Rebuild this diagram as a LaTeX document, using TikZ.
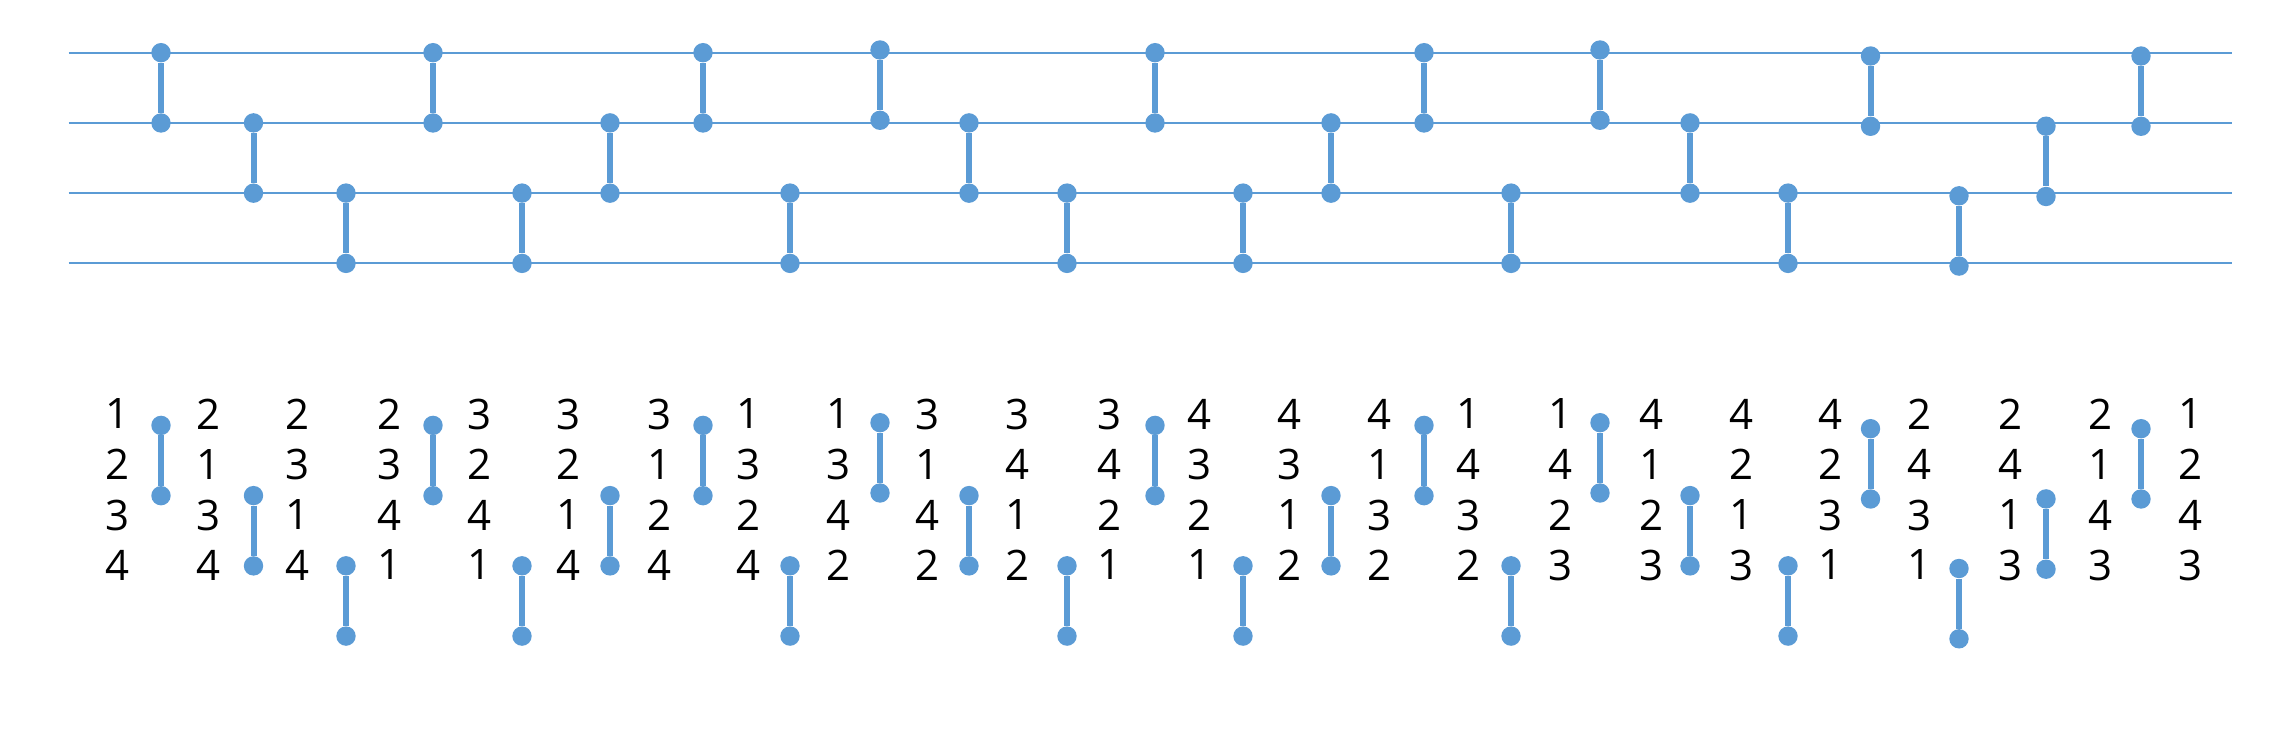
\documentclass[tikz,border=0pt]{standalone}
\usepackage{fontspec}
\setmainfont{Open Sans}
\definecolor{wireblue}{HTML}{5B9BD5}
\begin{document}
\begin{tikzpicture}[x=0.5pt,y=-0.5pt,
  wire/.style={draw=wireblue, line width=1pt},
  dot/.style={circle, fill=wireblue, draw=none, inner sep=0pt, minimum size=9.7pt},
  link/.style={draw=wireblue, line width=3pt},
  digit/.style={font=\fontsize{21}{21}\selectfont, inner sep=0pt, text=black}]
\useasboundingbox (0,0) rectangle (2291,753);
% wires
\foreach \k/\y in {1/52.7,2/122.9,3/193.1,4/263.3} {
  \coordinate (ws\k) at (68.5,\y);
  \coordinate (we\k) at (2231.7,\y);
  \draw[wire] (ws\k) -- (we\k);
}
% connectors (top circuit and bottom copy)
\foreach \i/\x/\lv/\dy in {1/161/1/0, 2/253.5/2/0, 3/346/3/0, 4/433/1/0, 5/522/3/0,
    6/610/2/0, 7/703/1/0, 8/790/3/0, 9/880/1/-2.7, 10/969/2/0, 11/1067/3/0,
    12/1155/1/0, 13/1243/3/0, 14/1331/2/0, 15/1424/1/0, 16/1511/3/0,
    17/1600/1/-2.7, 18/1690/2/0, 19/1788/3/0, 20/1870.5/1/3.3, 21/1959/3/2.7,
    22/2046/2/3.3, 23/2141/1/3.3} {
  \pgfmathsetmacro{\ya}{52.7+(\lv-1)*70.2+\dy}
  \pgfmathsetmacro{\yb}{\ya+70.3}
  \pgfmathsetmacro{\yc}{\ya+372.7}
  \pgfmathsetmacro{\yd}{\yb+372.7}
  \node[dot] (ta\i) at (\x,\ya) {};
  \node[dot] (tb\i) at (\x,\yb) {};
  \draw[link] (ta\i) -- (tb\i);
  \node[dot] (ba\i) at (\x,\yc) {};
  \node[dot] (bb\i) at (\x,\yd) {};
  \draw[link] (ba\i) -- (bb\i);
}
% permutation columns
\foreach \c/\x/\pa/\pb/\pc/\pd in {1/118/1/2/3/4, 2/208.5/2/1/3/4, 3/297.5/2/3/1/4,
    4/389.6/2/3/4/1, 5/479.3/3/2/4/1, 6/569/3/2/1/4, 7/659.6/3/1/2/4,
    8/748.3/1/3/2/4, 9/838.2/1/3/4/2, 10/927.8/3/1/4/2, 11/1017.5/3/4/1/2,
    12/1109.6/3/4/2/1, 13/1199.3/4/3/2/1, 14/1289/4/3/1/2, 15/1379.6/4/1/3/2,
    16/1468.3/1/4/3/2, 17/1560.5/1/4/2/3, 18/1651.4/4/1/2/3, 19/1741.2/4/2/1/3,
    20/1830.5/4/2/3/1, 21/1919.8/2/4/3/1, 22/2010.6/2/4/1/3, 23/2100.4/2/1/4/3,
    24/2190.2/1/2/4/3} {
  \node[digit] (d\c-1) at (\x,414) {\pa};
  \node[digit] (d\c-2) at (\x,464.5) {\pb};
  \node[digit] (d\c-3) at (\x,515) {\pc};
  \node[digit] (d\c-4) at (\x,565) {\pd};
}
\end{tikzpicture}
\end{document}
